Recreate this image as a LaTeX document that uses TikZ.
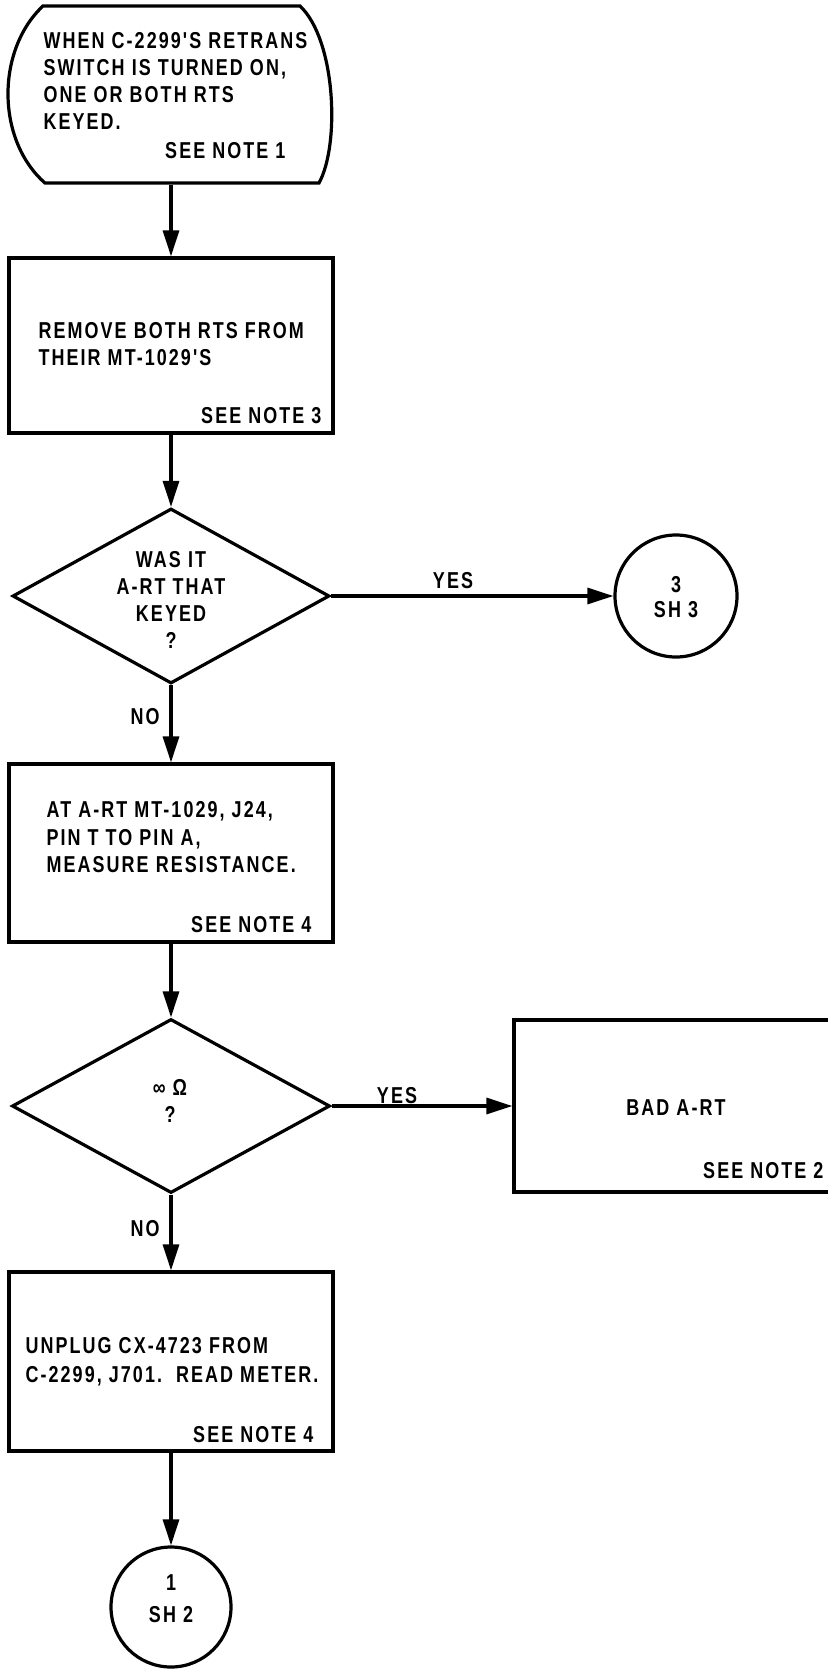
\documentclass[tikz,border=0pt]{standalone}
\usepackage{fontspec}
\usetikzlibrary{arrows.meta,shapes.geometric}
\newfontfamily\lblfont{Liberation Sans}[FakeStretch=0.78,LetterSpace=9]
\begin{document}
\begin{tikzpicture}[x=1pt,y=-1pt,
  line width=3.2pt,
  lbl/.style={font=\lblfont\bfseries\fontsize{23}{27}\selectfont, inner sep=0pt},
  box/.style={draw, rectangle, inner sep=0pt},
  dia/.style={draw, diamond, inner sep=0pt},
  conn/.style={draw, circle, inner sep=0pt},
  arr/.style={-{Triangle[length=26pt,width=16pt]}}]
\fill[white] (0,0) rectangle (827,1670);
\useasboundingbox (0,0) rectangle (827,1670);

% terminal
\node[inner sep=0pt, minimum width=324pt, minimum height=177pt] (term) at (171,94.5) {};
\draw (43,6) -- (300,6) .. controls (336,40) and (340,145) .. (319,183)
  -- (45,183) .. controls (-4,140) and (-4,50) .. cycle;

% shapes
\node[box, minimum width=324pt, minimum height=175pt] (b1) at (171,345.5) {};
\node[dia, minimum width=317pt, minimum height=175pt] (d1) at (171,596) {};
\node[conn, minimum size=122pt] (c3) at (676,596) {};
\node[box, minimum width=324pt, minimum height=178pt] (b2) at (171,853) {};
\node[dia, minimum width=318pt, minimum height=174pt] (d2) at (171,1106) {};
\node[box, minimum width=326pt, minimum height=172pt] (bad) at (677,1106) {};
\node[box, minimum width=324pt, minimum height=179pt] (b3) at (171,1361.5) {};
\node[conn, minimum size=120pt] (c1) at (171,1607) {};

% texts
\node[lbl, anchor=north west, align=left] (t0) at (42,31)
  {WHEN C-2299'S RETRANS\\SWITCH IS TURNED ON,\\ONE OR BOTH RTS\\KEYED.};
\node[lbl, anchor=north east] (n1) at (287,141) {SEE NOTE 1};
\node[lbl, anchor=north west, align=left] (t1) at (37,321)
  {REMOVE BOTH RTS FROM\\THEIR MT-1029'S};
\node[lbl, anchor=north east] (n3) at (323,406) {SEE NOTE 3};
\node[lbl, anchor=north, align=center] (td1) at (171,550)
  {WAS IT\\A-RT THAT\\KEYED\\?};
\node[lbl, anchor=north] (yes1) at (453,571) {YES};
\node[lbl, anchor=north, align=center, font=\lblfont\bfseries\fontsize{23}{25}\selectfont] (tc3) at (676,575) {3\\SH 3};
\node[lbl, anchor=north] (no1) at (145,707) {NO};
\node[lbl, anchor=north west, align=left, font=\lblfont\bfseries\fontsize{23}{27.5}\selectfont] (t2) at (45,800)
  {AT A-RT MT-1029, J24,\\PIN T TO PIN A,\\MEASURE RESISTANCE.};
\node[lbl, anchor=north east] (n4a) at (313,915) {SEE NOTE 4};
\node[lbl, anchor=north, align=center] (td2) at (170,1078) {∞ Ω\\?};
\node[lbl, anchor=north] (yes2) at (397,1086) {YES};
\node[lbl, anchor=north] (tbad) at (676,1098) {BAD A-RT};
\node[lbl, anchor=north east] (n2) at (825,1161) {SEE NOTE 2};
\node[lbl, anchor=north] (no2) at (145,1219) {NO};
\node[lbl, anchor=north west, align=left, font=\lblfont\bfseries\fontsize{23}{29}\selectfont] (t3) at (24,1336)
  {UNPLUG CX-4723 FROM\\C-2299, J701.\ \ READ METER.};
\node[lbl, anchor=north east] (n4b) at (315,1425) {SEE NOTE 4};
\node[lbl, anchor=north, align=center, font=\lblfont\bfseries\fontsize{23}{32}\selectfont] (tc1) at (171,1573) {1\\SH 2};

% connectors
\draw[arr] (term.south) -- (b1.north);
\draw[arr] (b1.south) -- (d1.north);
\draw[arr] (d1.east) -- (c3.west);
\draw[arr] (d1.south) -- (b2.north);
\draw[arr] (b2.south) -- (d2.north);
\draw[arr] (d2.east) -- (bad.west);
\draw[arr] (d2.south) -- (b3.north);
\draw[arr] (b3.south) -- (c1.north);
\end{tikzpicture}
\end{document}
